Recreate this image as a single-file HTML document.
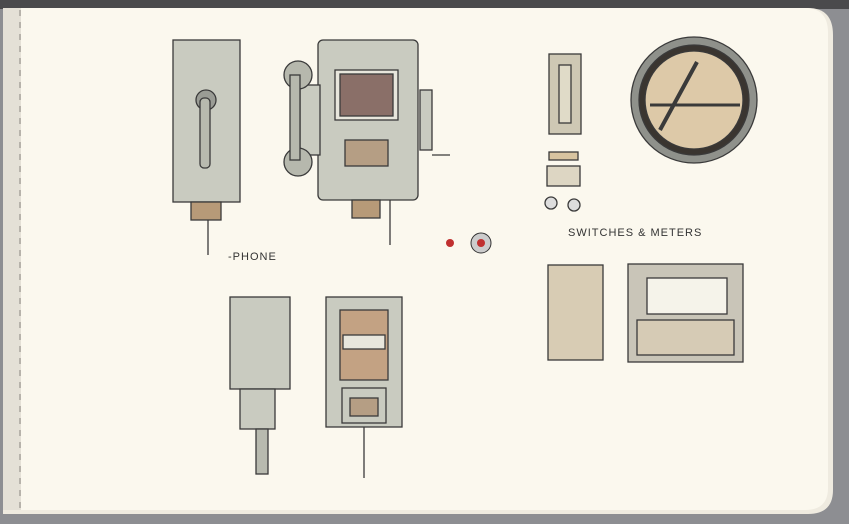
<!DOCTYPE html>
<html><head><meta charset="utf-8"><style>
html,body{margin:0;padding:0;width:849px;height:524px;overflow:hidden;background:#8c8c8e}
</style></head><body>
<svg width="849" height="524" viewBox="0 0 849 524" xmlns="http://www.w3.org/2000/svg">
<rect width="849" height="524" fill="#8d8e92"/>
<rect width="849" height="9" fill="#4a4a4c"/>
<path d="M3 8 H808 Q833 8 833 35 V490 Q833 514 808 514 H3 Z" fill="#efebe0"/>
<path d="M3 8 H805 Q828 8 828 33 V488 Q828 510 805 510 H3 Z" fill="#fbf8ee"/>
<rect x="3" y="8" width="18" height="502" fill="#e4e0d6"/>
<line x1="20" y1="10" x2="20" y2="508" stroke="#8a8680" stroke-dasharray="6 6"/>
<g stroke="#3a3a3a" stroke-width="1.3" fill="#c9cbc0">
<!-- phone left -->
<rect x="173" y="40" width="67" height="162"/>
<rect x="191" y="202" width="30" height="18" fill="#b79a78"/>
<circle cx="206" cy="100" r="10" fill="#9a9c95"/>
<rect x="200" y="98" width="10" height="70" rx="4" fill="#b8baaf"/>
<line x1="208" y1="220" x2="208" y2="255"/>
<!-- phone main -->
<rect x="318" y="40" width="100" height="160" rx="5"/>
<rect x="335" y="70" width="63" height="50" fill="#e8e6dc"/>
<rect x="340" y="74" width="53" height="42" fill="#8a6f68"/>
<rect x="345" y="140" width="43" height="26" fill="#b59e84"/>
<rect x="352" y="200" width="28" height="18" fill="#b79a78"/>
<rect x="300" y="85" width="20" height="70" fill="#c9cbc0"/>
<circle cx="298" cy="75" r="14" fill="#b6b8ad"/>
<circle cx="298" cy="162" r="14" fill="#b6b8ad"/>
<rect x="290" y="75" width="10" height="85" fill="#b6b8ad"/>
<rect x="420" y="90" width="12" height="60" fill="#c9cbc0"/>
<line x1="432" y1="155" x2="450" y2="155"/>
<line x1="390" y1="200" x2="390" y2="245"/>
<!-- lower left -->
<rect x="230" y="297" width="60" height="92"/>
<rect x="240" y="389" width="35" height="40"/>
<rect x="256" y="429" width="12" height="45" fill="#b8baaf"/>
<rect x="326" y="297" width="76" height="130"/>
<rect x="340" y="310" width="48" height="70" fill="#c3a283"/>
<rect x="343" y="335" width="42" height="14" fill="#e8e6dc"/>
<rect x="342" y="388" width="44" height="35" fill="#c9cbc0"/>
<rect x="350" y="398" width="28" height="18" fill="#b59e84"/>
<line x1="364" y1="427" x2="364" y2="478"/>
<!-- switches -->
<rect x="549" y="54" width="32" height="80" fill="#cec8b4"/>
<rect x="559" y="65" width="12" height="58" fill="#e0dbc8"/>
<rect x="549" y="152" width="29" height="8" fill="#d8c4a0"/>
<rect x="547" y="166" width="33" height="20" fill="#ddd6c3"/>
<circle cx="551" cy="203" r="6" fill="#ddd"/>
<circle cx="574" cy="205" r="6" fill="#ddd"/>
<circle cx="694" cy="100" r="63" fill="#8f918b"/>
<circle cx="694" cy="100" r="55" fill="#3a3530"/>
<circle cx="694" cy="100" r="49" fill="#ddc9a8"/>
<line x1="650" y1="105" x2="740" y2="105" stroke-width="3"/>
<line x1="660" y1="130" x2="697" y2="62" stroke-width="4"/>
<rect x="548" y="265" width="55" height="95" fill="#d8ccb4"/>
<rect x="628" y="264" width="115" height="98" fill="#c9c5b8"/>
<rect x="647" y="278" width="80" height="36" fill="#f5f3ea"/>
<rect x="637" y="320" width="97" height="35" fill="#d6cbb5"/>
</g>
<circle cx="450" cy="243" r="4" fill="#c03030"/>
<circle cx="481" cy="243" r="10" fill="#ccc" stroke="#333"/>
<circle cx="481" cy="243" r="4" fill="#c03030"/>
<g font-family="Liberation Sans, sans-serif" font-size="11" fill="#333" letter-spacing="1">
<text x="228" y="260">-PHONE</text>
<text x="568" y="236">SWITCHES &amp; METERS</text>
</g>
</svg>
</body></html>
